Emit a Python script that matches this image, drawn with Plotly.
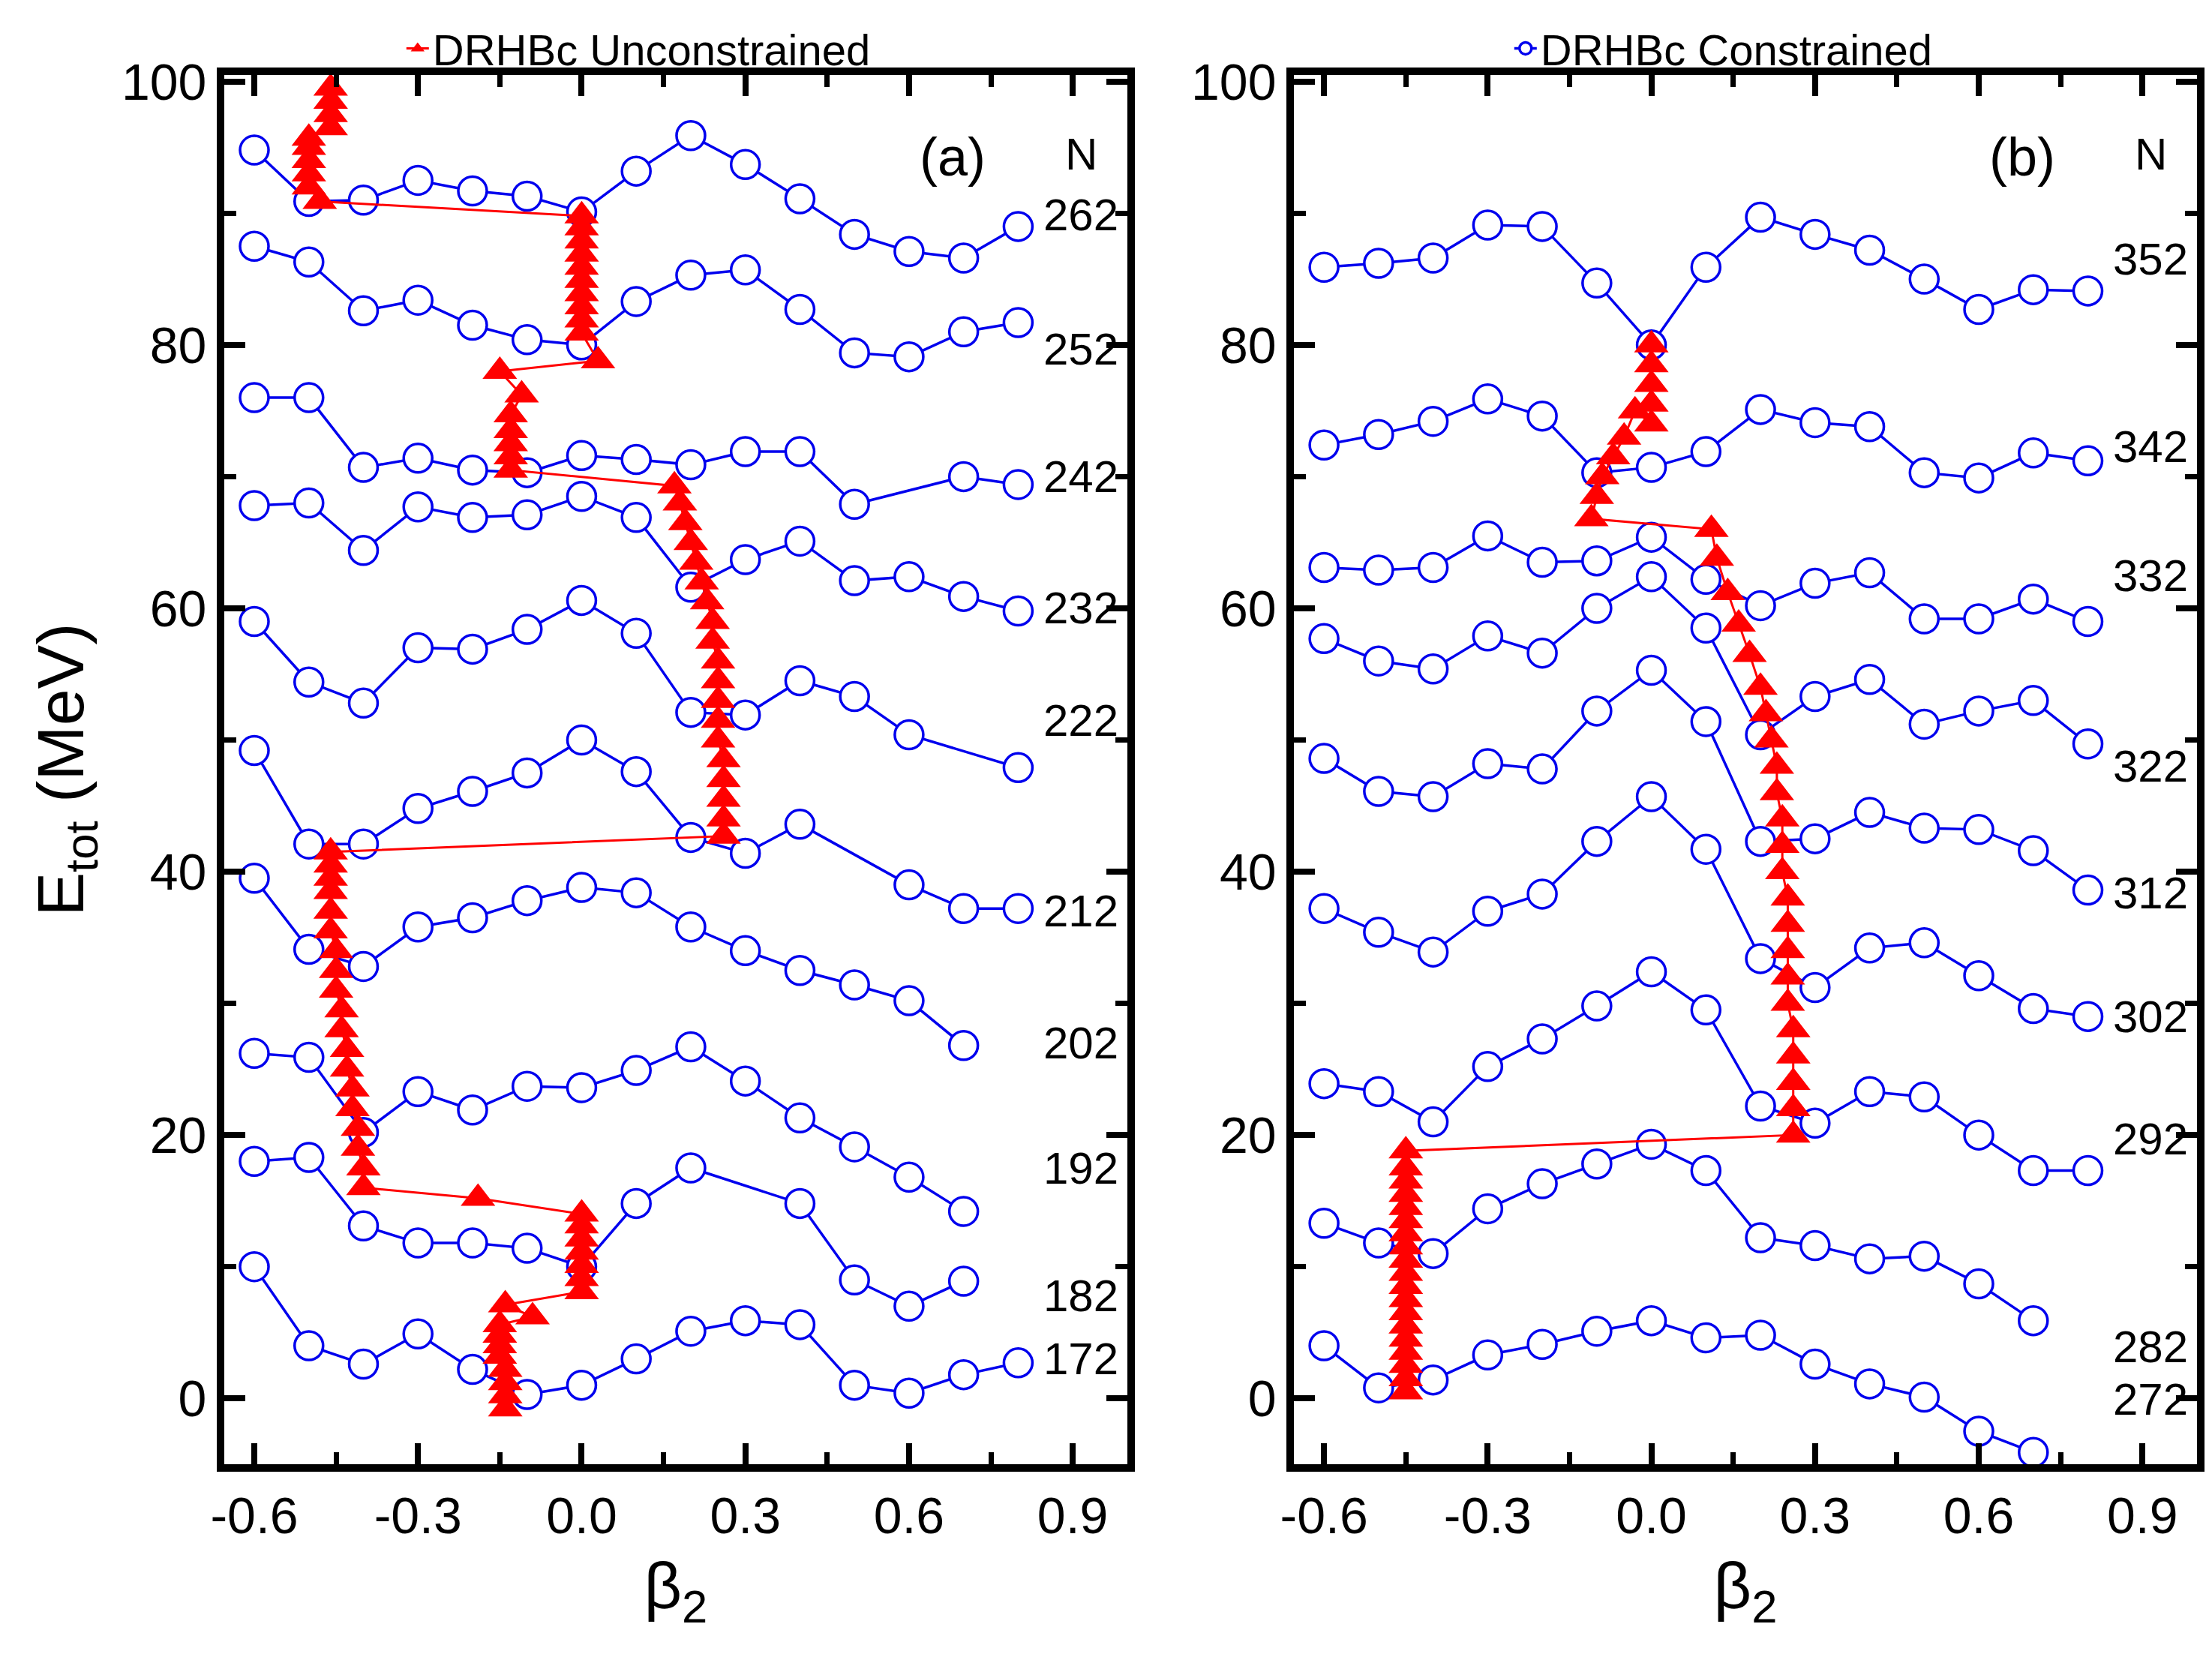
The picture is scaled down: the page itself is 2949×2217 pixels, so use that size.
import plotly.graph_objects as go
from plotly.subplots import make_subplots

beta = [-0.6, -0.5, -0.4, -0.3, -0.2, -0.1, 0.0, 0.1, 0.2, 0.3, 0.4, 0.5, 0.6, 0.7, 0.8]

# --- panel (a): constrained curves, E_tot (MeV) ---
curves_a = {
    262: [94.8, 90.9, 91.0, 92.5, 91.7, 91.3, 90.1, 93.2, 95.9, 93.7, 91.1, 88.4, 87.1, 86.6, 89.0],
    252: [87.5, 86.3, 82.6, 83.4, 81.5, 80.4, 80.0, 83.3, 85.3, 85.7, 82.7, 79.4, 79.1, 81.0, 81.7],
    242: [76.0, 76.0, 70.7, 71.4, 70.5, 70.3, 71.6, 71.3, 70.9, 71.9, 71.9, 67.9, None, 70.0, 69.4],
    232: [67.8, 68.0, 64.4, 67.7, 66.9, 67.1, 68.5, 66.9, 61.6, 63.7, 65.1, 62.1, 62.4, 60.9, 59.8],
    222: [59.0, 54.4, 52.8, 57.0, 56.9, 58.4, 60.6, 58.1, 52.1, 51.9, 54.5, 53.3, 50.4, None, 47.9],
    212: [49.2, 42.1, 42.1, 44.8, 46.1, 47.5, 50.0, 47.6, 42.6, 41.4, 43.6, None, 39.0, 37.2, 37.2],
    202: [39.5, 34.1, 32.8, 35.8, 36.5, 37.8, 38.8, 38.4, 35.8, 34.0, 32.5, 31.4, 30.2, 26.8, None],
    192: [26.2, 25.9, 20.2, 23.3, 21.9, 23.7, 23.6, 24.9, 26.7, 24.1, 21.3, 19.1, 16.8, 14.2, None],
    182: [18.0, 18.3, 13.1, 11.8, 11.8, 11.4, 10.0, 14.8, 17.5, None, 14.8, 9.0, 7.0, 8.9, None],
    172: [10.0, 4.0, 2.6, 4.9, 2.2, 0.3, 1.0, 3.0, 5.1, 5.9, 5.6, 1.0, 0.4, 1.8, 2.7],
}
label_a = {262: 89.9, 252: 79.7, 242: 70.0, 232: 60.0, 222: 51.5, 212: 37.0,
           202: 27.0, 192: 17.5, 182: 7.8, 172: 3.0}

# unconstrained ground-state path (a)
red_a_beta = [-0.14, -0.14, -0.14, -0.14, -0.15, -0.15, -0.15, -0.15, -0.09, -0.14,
              0.0, 0.0, 0.0, 0.0, 0.0, 0.0, 0.0, -0.19,
              -0.40, -0.40, -0.41, -0.41, -0.42, -0.42, -0.43, -0.43, -0.44, -0.44,
              -0.45, -0.45, -0.45, -0.46, -0.46, -0.46, -0.46, -0.46, -0.46,
              0.26, 0.26, 0.26, 0.26, 0.26, 0.25, 0.25, 0.25, 0.25, 0.25, 0.24, 0.24,
              0.23, 0.22, 0.21, 0.20, 0.19, 0.18, 0.17,
              -0.13, -0.13, -0.13, -0.13, -0.13, -0.11, -0.15,
              0.03, 0.0, 0.0, 0.0, 0.0, 0.0, 0.0, 0.0, 0.0, 0.0, 0.0,
              -0.48, -0.50, -0.50, -0.50, -0.50, -0.50, -0.46, -0.46, -0.46, -0.46]
red_a_e = [-0.8, 0.2, 1.2, 2.2, 3.2, 4.0, 4.8, 5.6, 6.2, 7.1,
           8.1, 9.1, 10.1, 11.1, 12.1, 13.1, 14.0, 15.2,
           16.0, 17.5, 19.0, 20.5, 22.0, 23.5, 25.0, 26.5, 28.0, 29.5,
           31.0, 32.5, 34.0, 35.5, 37.0, 38.5, 39.5, 40.5, 41.5,
           42.7, 44.0, 45.5, 47.0, 48.5, 50.0, 51.5, 53.0, 54.5, 56.0, 57.5, 59.0,
           60.5, 62.0, 63.5, 65.0, 66.5, 68.0, 69.3,
           70.5, 71.5, 72.5, 73.5, 74.7, 76.2, 78.0,
           78.8, 80.9, 81.9, 82.9, 83.9, 84.9, 85.9, 86.9, 87.9, 88.9, 89.8,
           90.9, 92.0, 93.0, 94.0, 95.0, 95.7, 96.5, 97.5, 98.5, 99.5]

# --- panel (b) ---
curves_b = {
    352: [85.9, 86.2, 86.6, 89.1, 89.0, 84.7, 80.0, 85.9, 89.7, 88.4, 87.2, 85.0, 82.7, 84.2, 84.1],
    342: [72.4, 73.2, 74.2, 75.9, 74.6, 70.3, 70.7, 71.9, 75.1, 74.1, 73.8, 70.3, 69.9, 71.8, 71.2],
    332: [63.1, 62.9, 63.1, 65.5, 63.5, 63.6, 65.4, 62.2, 60.2, 61.9, 62.7, 59.2, 59.2, 60.7, 59.0],
    322: [57.7, 56.0, 55.4, 57.9, 56.6, 60.0, 62.4, 58.5, 50.4, 53.3, 54.6, 51.2, 52.2, 53.0, 49.7],
    312: [48.6, 46.1, 45.7, 48.2, 47.8, 52.2, 55.3, 51.4, 42.3, 42.5, 44.5, 43.3, 43.2, 41.6, 38.6],
    302: [37.2, 35.4, 33.9, 37.0, 38.3, 42.3, 45.7, 41.7, 33.4, 31.2, 34.2, 34.6, 32.1, 29.6, 29.0],
    292: [23.9, 23.3, 21.0, 25.2, 27.3, 29.8, 32.4, 29.5, 22.2, 20.9, 23.3, 22.9, 20.0, 17.3, 17.3],
    282: [13.3, 11.8, 11.0, 14.4, 16.3, 17.8, 19.3, 17.3, 12.2, 11.6, 10.6, 10.8, 8.7, 5.9, None],
    272: [4.0, 0.8, 1.4, 3.3, 4.1, 5.1, 5.9, 4.6, 4.8, 2.6, 1.1, 0.1, -2.5, -4.1, None],
}
label_b = {352: 86.5, 342: 72.3, 332: 62.5, 322: 48.0, 312: 38.4, 302: 29.0,
           292: 19.7, 282: 3.9, 272: -0.1}

red_b_beta = [-0.45] * 19 + [0.26, 0.26, 0.26, 0.26, 0.26, 0.25, 0.25, 0.25, 0.25, 0.25,
                             0.24, 0.24, 0.24, 0.23, 0.23, 0.22, 0.21, 0.20, 0.18, 0.16,
                             0.14, 0.12, 0.11,
                             -0.11, -0.10, -0.09, -0.07, -0.05, -0.03,
                             0.0, 0.0, 0.0, 0.0, 0.0]
red_b_e = [0.5, 1.5, 2.5, 3.5, 4.5, 5.5, 6.5, 7.5, 8.5, 9.5, 10.5, 11.5, 12.5, 13.5,
           14.5, 15.5, 16.5, 17.5, 18.8,
           20.0, 22.0, 24.0, 26.0, 28.0, 30.0, 32.0, 34.0, 36.0, 38.0,
           40.0, 42.0, 44.0, 46.0, 48.0, 50.0, 52.0, 54.0, 56.5, 58.8,
           61.2, 63.8, 66.0,
           66.8, 68.5, 70.0, 71.5, 73.0, 75.0,
           74.0, 75.5, 77.0, 78.5, 80.0]

fig = make_subplots(rows=1, cols=2, horizontal_spacing=0.0845)

BLUE = "#0000ee"
RED = "#ff0000"

for col, (curves, rb, re_) in enumerate(
        [(curves_a, red_a_beta, red_a_e), (curves_b, red_b_beta, red_b_e)], start=1):
    for i, (n, e) in enumerate(curves.items()):
        fig.add_trace(go.Scatter(
            x=beta, y=e, mode="lines+markers", connectgaps=True,
            line=dict(color=BLUE, width=3.5),
            marker=dict(symbol="circle", size=38, color="white", line=dict(color=BLUE, width=3.5)),
            name="DRHBc Constrained", legend="legend2",
            showlegend=(col == 2 and i == 0),
        ), row=1, col=col)
    fig.add_trace(go.Scatter(
        x=rb, y=re_, mode="lines+markers",
        line=dict(color=RED, width=3),
        marker=dict(symbol="triangle-up", size=40, color=RED),
        name="DRHBc Unconstrained", legend="legend",
        showlegend=(col == 1),
    ), row=1, col=col)

annotations = []
for xref, yref, labels, tag in [("x", "y", label_a, "(a)"), ("x2", "y2", label_b, "(b)")]:
    for n, yv in labels.items():
        annotations.append(dict(x=0.915, y=yv, xref=xref, yref=yref, text=str(n), showarrow=False,
                                font=dict(size=60, color="black")))
    annotations.append(dict(x=0.915, y=94.5, xref=xref, yref=yref, text="N", showarrow=False,
                            font=dict(size=60, color="black")))
    annotations.append(dict(x=0.68, y=94.3, xref=xref, yref=yref, text=tag, showarrow=False,
                            font=dict(size=72, color="black")))

axis_common = dict(showline=True, linewidth=10, linecolor="black", mirror="ticks",
                   ticks="inside", ticklen=28, tickwidth=8, tickcolor="black",
                   showgrid=False, zeroline=False,
                   tickfont=dict(size=68, color="black"))
fig.update_xaxes(**axis_common, range=[-0.655, 1.0], tickvals=[-0.6, -0.3, 0.0, 0.3, 0.6, 0.9],
                 ticktext=["-0.6", "-0.3", "0.0", "0.3", "0.6", "0.9"],
                 minor=dict(ticks="inside", ticklen=16, tickwidth=7, tickcolor="black", dtick=0.15, tick0=-0.6),
                 title=dict(text="β<sub>2</sub>", font=dict(size=88, color="black"), standoff=30))
fig.update_yaxes(**axis_common, range=[-5, 100.5], tickvals=[0, 20, 40, 60, 80, 100],
                 minor=dict(ticks="inside", ticklen=16, tickwidth=7, tickcolor="black", dtick=10, tick0=0))
fig.update_yaxes(title=dict(text="E<sub>tot</sub> (MeV)", font=dict(size=88, color="black"), standoff=25),
                 row=1, col=1)

leg_common = dict(orientation="h", yanchor="bottom", y=0.995, xanchor="center",
                  font=dict(size=58, color="black"), bgcolor="rgba(0,0,0,0)")
fig.update_layout(
    width=2949, height=2217,
    margin=dict(l=291, r=28, t=85, b=273),
    font=dict(family="Liberation Sans, Arial, sans-serif"),
    plot_bgcolor="white", paper_bgcolor="white",
    legend=dict(**leg_common, x=0.21),
    legend2=dict(**leg_common, x=0.76),
    annotations=annotations,
)

fig.write_html("out.html")
